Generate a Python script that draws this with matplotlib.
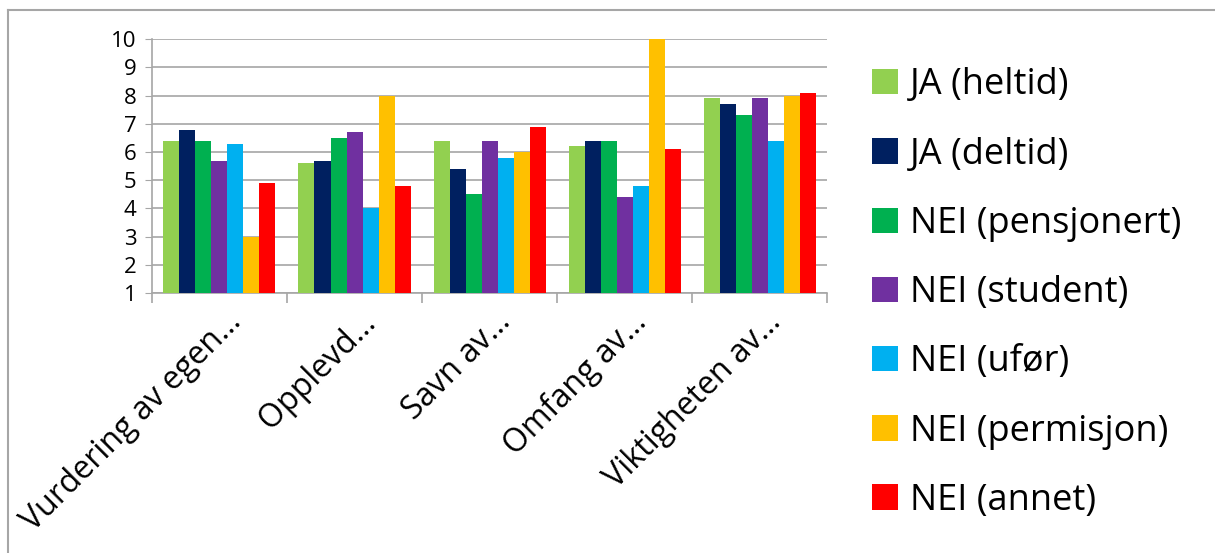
import numpy as np
import matplotlib.pyplot as plt
from matplotlib.lines import Line2D
from matplotlib.transforms import ScaledTranslation

# Categories and series
categories = ['Vurdering av egen…', 'Opplevd…', 'Savn av…', 'Omfang av…', 'Viktigheten av…']
series_names = ['JA (heltid)', 'JA (deltid)', 'NEI (pensjonert)', 'NEI (student)',
                'NEI (ufør)', 'NEI (permisjon)', 'NEI (annet)']
ja_heltid = [6.4, 5.6, 6.4, 6.2, 7.9]
ja_deltid = [6.8, 5.7, 5.4, 6.4, 7.7]
nei_pensjonert = [6.4, 6.5, 4.5, 6.4, 7.3]
nei_student = [5.7, 6.7, 6.4, 4.4, 7.9]
nei_ufor = [6.3, 4.0, 5.8, 4.8, 6.4]
nei_permisjon = [3.0, 8.0, 6.0, 10.0, 8.0]
nei_annet = [4.9, 4.8, 6.9, 6.1, 8.1]
y_ticks = list(range(1, 11))

colors = ['#92d050', '#002060', '#00b050', '#7030a0', '#00b0f0', '#ffc000', '#ff0000']
all_series = [ja_heltid, ja_deltid, nei_pensjonert, nei_student, nei_ufor, nei_permisjon, nei_annet]

plt.rcParams['font.family'] = ['Open Sans', 'DejaVu Sans']

fig = plt.figure(figsize=(12.15, 5.53), dpi=100)
ax = fig.add_axes([0.125, 0.470, 0.556, 0.459])

x = np.arange(len(categories))
n = len(all_series)
bar_w = 0.83 / n
for i, (vals, name, c) in enumerate(zip(all_series, series_names, colors)):
    vals = np.array(vals)
    ax.bar(x - 0.415 + bar_w * (i + 0.5), vals - 1, bottom=1, width=bar_w,
           color=c, label=name, zorder=3)

ax.set_ylim(1, 10)
ax.set_xlim(-0.5, len(categories) - 0.5)
ax.set_yticks(y_ticks)
ax.yaxis.grid(True, color='#a6a6a6', linewidth=1.2, zorder=0)
ax.tick_params(axis='y', length=5, color='#a6a6a6', labelsize=16, pad=6)
for s in ['top', 'right']:
    ax.spines[s].set_visible(False)
ax.spines['left'].set_color('#a6a6a6')
ax.spines['bottom'].set_color('#a6a6a6')
ax.spines['left'].set_linewidth(1.2)
ax.spines['bottom'].set_linewidth(1.2)

# category ticks at boundaries, labels centered and rotated
ax.set_xticks(np.arange(-0.5, len(categories)), minor=False)
ax.set_xticklabels([])
ax.tick_params(axis='x', length=7, color='#a6a6a6', width=1.2)
ax.set_xticks(x, minor=True)
ax.set_xticklabels(categories, minor=True, rotation=45, ha='right',
                   rotation_mode='anchor', fontsize=23)
ax.tick_params(axis='x', which='minor', length=0, pad=9)
shift = ScaledTranslation(5 / 100, 0, fig.dpi_scale_trans)
for lbl in ax.get_xticklabels(minor=True):
    lbl.set_transform(lbl.get_transform() + shift)

ax.legend(loc='center left', bbox_to_anchor=(1.045, 0.0), frameon=False,
          fontsize=26, handlelength=0.7, handleheight=0.7, labelspacing=0.92,
          handletextpad=0.35, borderaxespad=0)

# chart frame: only top and left edges show in the reference
fig.add_artist(Line2D([8 / 1215, 1], [1 - 10 / 553, 1 - 10 / 553],
                      transform=fig.transFigure, color='#a6a6a6', linewidth=1.5))
fig.add_artist(Line2D([8 / 1215, 8 / 1215], [0, 1 - 10 / 553],
                      transform=fig.transFigure, color='#a6a6a6', linewidth=1.5))

fig.savefig('out.png', dpi=100)
